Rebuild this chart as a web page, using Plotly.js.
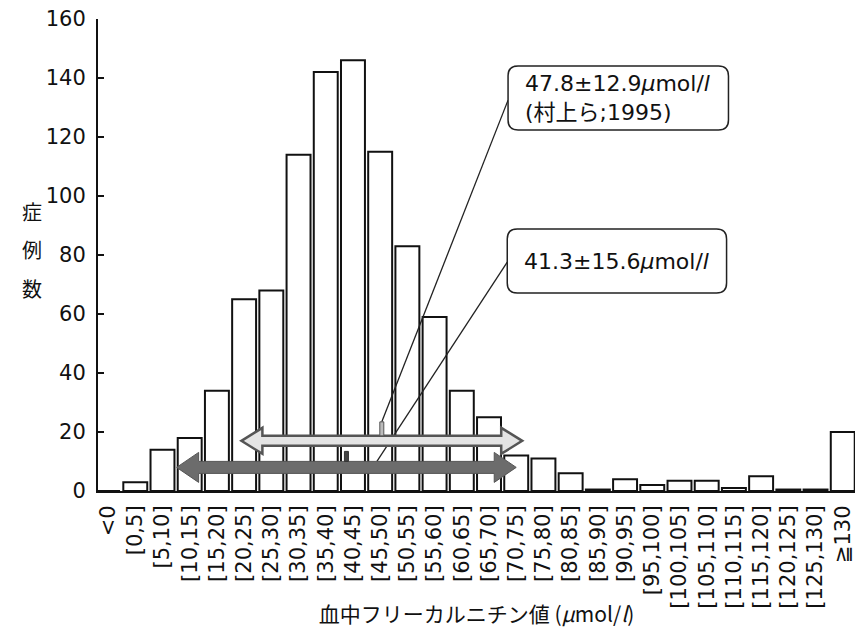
<!DOCTYPE html>
<html>
<head>
<meta charset="utf-8">
<script src="https://cdn.plot.ly/plotly-3.0.1.min.js"></script>
<style>
  html, body { margin: 0; padding: 0; background: #fff; }
  #chart { width: 855px; height: 637px; }
</style>
</head>
<body>
<div id="chart"></div>
<script>
// Distribution of blood free carnitine (bins of 5 µmol/l)
const categories = ['&lt;0', '[0,5]', '[5,10]', '[10,15]', '[15,20]', '[20,25]', '[25,30]',
  '[30,35]', '[35,40]', '[40,45]', '[45,50]', '[50,55]', '[55,60]', '[60,65]', '[65,70]',
  '[70,75]', '[75,80]', '[80,85]', '[85,90]', '[90,95]', '[95,100]', '[100,105]',
  '[105,110]', '[110,115]', '[115,120]', '[120,125]', '[125,130]', '≧130'];
const counts = [0, 3, 14, 18, 34, 65, 68, 114, 142, 146, 115, 83, 59, 34, 25, 12, 11, 6,
  0.5, 4, 2, 3.5, 3.5, 1, 5, 0.5, 0.5, 20];
const yTicks = [0, 20, 40, 60, 80, 100, 120, 140, 160];

// mean ± SD of this series and of the reference study
const studyMean = 41.3, studySD = 15.6;
const refMean = 47.8, refSD = 12.9;
const studyLabel = '41.3±15.6<i>μ</i>mol/<i>l</i>';
const refLabel = '47.8±12.9<i>μ</i>mol/<i>l</i><br>(村上ら;1995)';

// ---- geometry helpers ----
const W = 855, H = 637;
const M = { l: 98, r: 0, t: 19, b: 146 };
const xRange = [-0.37, 27.45];
const yRange = [0, 160];
const pxX = (W - M.l - M.r) / (xRange[1] - xRange[0]);   // px per category
const pxY = (H - M.t - M.b) / (yRange[1] - yRange[0]);   // px per count
const dx = p => p / pxX;
const dy = p => p / pxY;
// concentration (µmol/l) -> position on the category axis
const pos = v => 0.5 + v / 5;

function arrowPath(x0, x1, yc, shaft, head, len) {
  const s = dy(shaft), h = dy(head), l = dx(len);
  return `M${x0},${yc} L${x0 + l},${yc + h} L${x0 + l},${yc + s} L${x1 - l},${yc + s} ` +
         `L${x1 - l},${yc + h} L${x1},${yc} L${x1 - l},${yc - h} L${x1 - l},${yc - s} ` +
         `L${x0 + l},${yc - s} L${x0 + l},${yc - h} Z`;
}
function roundBox(x0, x1, y0, y1, r) {
  const rx = dx(r), ry = dy(r);
  return `M${x0 + rx},${y1} L${x1 - rx},${y1} Q${x1},${y1} ${x1},${y1 - ry} ` +
         `L${x1},${y0 + ry} Q${x1},${y0} ${x1 - rx},${y0} L${x0 + rx},${y0} ` +
         `Q${x0},${y0} ${x0},${y0 + ry} L${x0},${y1 - ry} Q${x0},${y1} ${x0 + rx},${y1} Z`;
}

const xs = categories.map((_, i) => i);

const bars = {
  type: 'bar',
  x: xs,
  y: counts,
  width: 0.88,
  marker: { color: '#ffffff', line: { color: '#111', width: 2 } },
  hoverinfo: 'skip'
};

// arrow placement (counts axis) and label boxes
const refY = 17, studyY = 8;
const refBox = { x0: 14.7, x1: 22.8, y0: 122.4, y1: 144.1 };
const studyBox = { x0: 14.67, x1: 22.73, y0: 67.1, y1: 88.8 };

const shapes = [
  // leader lines
  { type: 'line', xref: 'x', yref: 'y', x0: pos(refMean), y0: refY + dy(19), x1: refBox.x0, y1: 132.5,
    line: { color: '#222', width: 1.3 } },
  { type: 'line', xref: 'x', yref: 'y', x0: 9.88, y0: studyY + dy(6), x1: studyBox.x0, y1: 77.6,
    line: { color: '#222', width: 1.3 } },
  // mean ± 2SD arrows
  { type: 'path', xref: 'x', yref: 'y',
    path: arrowPath(pos(refMean - 2 * refSD), pos(refMean + 2 * refSD), refY, 5, 13, 21),
    fillcolor: '#e4e4e4', line: { color: '#555', width: 2.5 } },
  { type: 'path', xref: 'x', yref: 'y',
    path: arrowPath(pos(studyMean - 2 * studySD), pos(studyMean + 2 * studySD), studyY, 6, 15, 22),
    fillcolor: '#6c6c6c', line: { color: '#555', width: 1 } },
  // mean markers
  { type: 'rect', xref: 'x', yref: 'y', x0: pos(refMean) - dx(2), x1: pos(refMean) + dx(2),
    y0: refY + dy(5), y1: refY + dy(19), fillcolor: '#bbb', line: { color: '#555', width: 1 } },
  { type: 'rect', xref: 'x', yref: 'y', x0: pos(studyMean) - dx(2), x1: pos(studyMean) + dx(2),
    y0: studyY + dy(6), y1: studyY + dy(16), fillcolor: '#444', line: { color: '#333', width: 1 } },
  // label boxes
  { type: 'path', xref: 'x', yref: 'y', path: roundBox(refBox.x0, refBox.x1, refBox.y0, refBox.y1, 10),
    fillcolor: '#fff', line: { color: '#222', width: 1.5 } },
  { type: 'path', xref: 'x', yref: 'y', path: roundBox(studyBox.x0, studyBox.x1, studyBox.y0, studyBox.y1, 10),
    fillcolor: '#fff', line: { color: '#222', width: 1.5 } }
];

const txtFont = { family: 'DejaVu Sans, Noto Sans CJK JP, sans-serif', size: 22, color: '#111' };
const annotations = [
  { xref: 'x', yref: 'y', x: refBox.x0 + dx(15), y: (refBox.y0 + refBox.y1) / 2,
    xanchor: 'left', yanchor: 'middle', align: 'left', showarrow: false,
    text: refLabel, font: txtFont },
  { xref: 'x', yref: 'y', x: studyBox.x0 + dx(15), y: (studyBox.y0 + studyBox.y1) / 2,
    xanchor: 'left', yanchor: 'middle', align: 'left', showarrow: false,
    text: studyLabel, font: txtFont }
];
// vertical y-axis title, one character per line
['症', '例', '数'].forEach((ch, i) => {
  annotations.push({
    xref: 'paper', yref: 'y', x: (32 - M.l) / (W - M.l - M.r), y: 94.6 - i * 12.9,
    xanchor: 'center', yanchor: 'middle', showarrow: false, text: ch,
    font: { family: 'Noto Sans CJK JP, sans-serif', size: 20, color: '#111' }
  });
});

const layout = {
  width: W, height: H,
  margin: M,
  paper_bgcolor: '#fff', plot_bgcolor: '#fff',
  showlegend: false,
  bargap: 0.12,
  font: { family: 'DejaVu Sans, Noto Sans CJK JP, sans-serif', size: 21, color: '#111' },
  xaxis: {
    range: xRange,
    tickmode: 'array', tickvals: xs, ticktext: categories,
    tickangle: -90, ticks: '', ticklabelstandoff: 4, ticklabeloverflow: 'allow',
    showline: true, linecolor: '#111', linewidth: 2,
    showgrid: false, zeroline: false, automargin: false,
    title: { text: '血中フリーカルニチン値 (<i>μ</i>mol/<i>l</i>)', standoff: 0,
      font: { family: 'Noto Sans CJK JP, DejaVu Sans, sans-serif', size: 21, color: '#111' } }
  },
  yaxis: {
    range: yRange,
    tickmode: 'array', tickvals: yTicks,
    ticks: 'inside', ticklen: 6, tickwidth: 1.5, tickcolor: '#111',
    ticklabelstandoff: 6,
    showline: true, linecolor: '#111', linewidth: 2,
    showgrid: false, zeroline: false, automargin: false
  },
  shapes: shapes,
  annotations: annotations
};

Plotly.newPlot('chart', [bars], layout, { displayModeBar: false, staticPlot: true });
</script>
</body>
</html>
